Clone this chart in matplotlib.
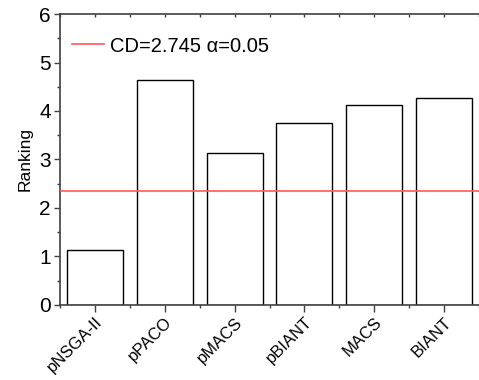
import matplotlib.pyplot as plt
from matplotlib.ticker import MultipleLocator, FixedLocator
import numpy as np

plt.rcParams['font.family'] = ['Liberation Sans', 'DejaVu Sans']

algorithms = ['pNSGA-II', 'pPACO', 'pMACS', 'pBIANT', 'MACS', 'BIANT']
ranking = [1.12, 4.63, 3.13, 3.75, 4.13, 4.26]
cd_line = 2.355  # red threshold line
cd_label = 'CD=2.745 \u03b1=0.05'

fig = plt.figure(figsize=(4.79, 3.80), dpi=100)
ax = fig.add_axes([0.1253, 0.198, 0.8747, 0.765])

x = np.arange(len(algorithms))
ax.bar(x, ranking, width=0.8, color='white', edgecolor='black', linewidth=1.0, zorder=2)
ax.axhline(cd_line, color='#ff5a5a', linewidth=1.2, label=cd_label, zorder=3)

ax.set_xlim(-0.5, 5.5)
ax.set_ylim(0, 6)
ax.set_ylabel('Ranking', fontsize=12.5, labelpad=5)

ax.set_xticks(x)
ax.set_xticklabels(algorithms, rotation=45, ha='right', rotation_mode='anchor', fontsize=12)
ax.xaxis.set_minor_locator(FixedLocator(np.arange(-0.5, 6, 1)))
ax.yaxis.set_major_locator(MultipleLocator(1))
ax.yaxis.set_minor_locator(MultipleLocator(0.5))

spine_col = '#404040'
for s in ['left', 'bottom', 'top']:
    ax.spines[s].set_color(spine_col)
    ax.spines[s].set_linewidth(1.2)
ax.spines['right'].set_visible(False)

ax.tick_params(axis='y', which='major', direction='out', length=4.5, width=1, color=spine_col, labelsize=15, pad=2)
ax.tick_params(axis='y', which='minor', direction='out', length=2.5, width=1, color=spine_col)
ax.tick_params(axis='x', which='major', direction='out', length=5, width=1, color=spine_col, pad=2)
ax.tick_params(axis='x', which='minor', direction='out', length=2.5, width=1, color=spine_col)
ax.tick_params(axis='x', which='both', top=True)

# top ticks point inward
for t in ax.xaxis.get_major_ticks() + ax.xaxis.get_minor_ticks():
    t.tick2line.set_marker(3)
    t.tick2line.set_markersize(2.5)

ax.legend(loc='center left', frameon=False, fontsize=14.5, handlelength=1.6,
          handletextpad=0.3, borderpad=0, borderaxespad=0,
          bbox_to_anchor=(0.0286, 0.890))

fig.savefig('out.png', dpi=100)
